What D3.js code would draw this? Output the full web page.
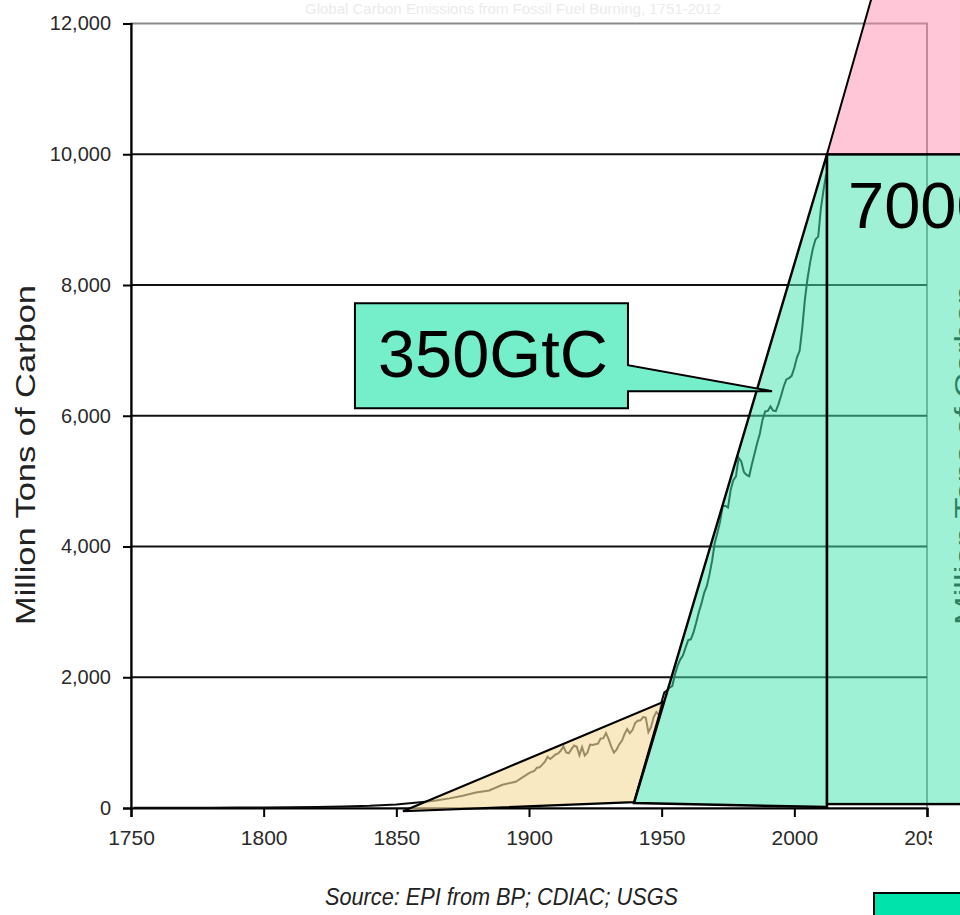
<!DOCTYPE html>
<html>
<head>
<meta charset="utf-8">
<script src="https://cdn.jsdelivr.net/npm/d3@7"></script>
<style>
  html, body { margin: 0; padding: 0; background: #fff; }
  svg { display: block; }
  text { font-family: "Liberation Sans", Arial, sans-serif; }
</style>
</head>
<body>
<svg id="chart" width="960" height="915"></svg>
<script>
// ---------- data ----------
const years = [1751,1760,1770,1780,1790,1800,1810,1820,1830,1840,
  1850,1855,1860,1865,1870,1875,1880,1885,1890,1895,
  1900,1901,1902,1903,1904,1905,1906,1907,1908,1909,
  1910,1911,1912,1913,1914,1915,1916,1917,1918,1919,
  1920,1921,1922,1923,1924,1925,1926,1927,1928,1929,
  1930,1931,1932,1933,1934,1935,1936,1937,1938,1939,
  1940,1941,1942,1943,1944,1945,1946,1947,1948,1949,
  1950,1951,1952,1953,1954,1955,1956,1957,1958,1959,
  1960,1961,1962,1963,1964,1965,1966,1967,1968,1969,
  1970,1971,1972,1973,1974,1975,1976,1977,1978,1979,
  1980,1981,1982,1983,1984,1985,1986,1987,1988,1989,
  1990,1991,1992,1993,1994,1995,1996,1997,1998,1999,
  2000,2001,2002,2003,2004,2005,2006,2007,2008,2009,
  2010,2011,2012];
const emissions = [3,3,4,5,7,8,10,14,24,33,
  54,71,91,115,147,188,236,269,356,400,
  534,552,566,617,624,663,707,784,750,785,
  819,836,879,943,850,838,901,955,936,806,
  932,803,845,970,963,975,983,1062,1065,1145,
  1053,940,847,893,973,1027,1130,1209,1142,1192,
  1299,1334,1342,1391,1383,1160,1238,1392,1469,1419,
  1630,1767,1795,1841,1865,2042,2177,2270,2330,2454,
  2569,2580,2686,2833,2995,3130,3288,3393,3566,3780,
  4053,4208,4376,4614,4623,4596,4864,5016,5074,5357,
  5301,5138,5094,5075,5258,5417,5583,5725,5936,6066,
  6074,6142,6078,6070,6174,6305,6448,6556,6576,6610,
  6733,6893,6994,7347,7789,8107,8353,8560,8700,8740,
  9170,9450,9700];

const xTicks = [1750,1800,1850,1900,1950,2000,2050];
const yTicks = [0,2000,4000,6000,8000,10000,12000];

// annotation shapes in data units (year, million tons)
const beigeYears = [1852.5, 1950.5, 1939.6];
const beigeValues = [-50, 1620, 90];
const greenTriYears = [1939.6, 2012.3, 2012.3];
const greenTriValues = [76, 10000, 15];
const greenRectYears = [2012.3, 2080];
const greenRectValues = [60, 10000];
const pinkYears = [2012.3, 2031, 2080, 2080];
const pinkValues = [10000, 12660, 12660, 10000];
const calloutYears = [1834.4, 1937.3, 1991.6];   // box left, box right, pointer tip
const calloutValues = [6116, 7722, 6774, 6376];  // box bottom, box top, pointer top, pointer tip

const titleText = "Global Carbon Emissions from Fossil Fuel Burning, 1751-2012";
const yTitle = "Million Tons of Carbon";
const sourceText = "Source: EPI from BP; CDIAC; USGS";
const calloutText = "350GtC";
const bigText = "7000GtC";

// ---------- scales ----------
const svg = d3.select("#chart");
const x = d3.scaleLinear().domain([1750, 2050]).range([131, 927]);
const y = d3.scaleLinear().domain([0, 12000]).range([808, 23.5]);
const pts = (xs, vs) => xs.map((d, i) => [x(d), y(vs[i])].join(",")).join(" ");

// faint title
svg.append("text").attr("x", 513).attr("y", 14).attr("text-anchor", "middle")
  .attr("font-size", 15).attr("fill", "#ebebeb").text(titleText);

// plot frame (top/right gray)
svg.append("rect").attr("x", x(1750)).attr("y", y(12000))
  .attr("width", x(2050) - x(1750)).attr("height", y(0) - y(12000))
  .attr("fill", "none").attr("stroke", "#8a8a8a").attr("stroke-width", 2);

// gridlines
svg.append("g").selectAll("line").data(yTicks.filter(d => d > 0 && d < 12000)).join("line")
  .attr("x1", x(1750)).attr("x2", x(2050)).attr("y1", d => y(d)).attr("y2", d => y(d))
  .attr("stroke", "#111").attr("stroke-width", 2.2);

// axes
const yAxis = d3.axisLeft(y).tickValues(yTicks).tickFormat(d3.format(",")).tickSize(8).tickPadding(12);
const gy = svg.append("g").attr("transform", `translate(${x(1750)},0)`).call(yAxis);
gy.select(".domain").attr("stroke", "#000").attr("stroke-width", 2.2);
gy.selectAll(".tick line").attr("stroke", "#000").attr("stroke-width", 2);
gy.selectAll(".tick text").attr("font-size", 20).attr("fill", "#2a2a2a")
  .attr("font-family", "'Liberation Sans', Arial, sans-serif");

const xAxis = d3.axisBottom(x).tickValues(xTicks).tickFormat(d3.format("d")).tickSize(9).tickPadding(13);
const gx = svg.append("g").attr("transform", `translate(0,${y(0)})`).call(xAxis);
gx.select(".domain").attr("stroke", "#000").attr("stroke-width", 2.2);
gx.selectAll(".tick line").attr("stroke", "#000").attr("stroke-width", 2);
gx.selectAll(".tick text").attr("font-size", 21).attr("fill", "#2a2a2a")
  .attr("font-family", "'Liberation Sans', Arial, sans-serif");

// y title (left) and ghost title at right edge
svg.append("text").attr("transform", "translate(35,455) rotate(-90)")
  .attr("text-anchor", "middle").attr("font-size", 27).attr("fill", "#222")
  .attr("textLength", 340).attr("lengthAdjust", "spacingAndGlyphs").text(yTitle);
svg.append("text").attr("transform", "translate(974,455) rotate(-90)")
  .attr("text-anchor", "middle").attr("font-size", 27).attr("fill", "#111")
  .attr("textLength", 340).attr("lengthAdjust", "spacingAndGlyphs").text(yTitle);

// data line
const line = d3.line().x((d, i) => x(years[i])).y(d => y(d));
svg.append("path").datum(emissions).attr("d", line)
  .attr("fill", "none").attr("stroke", "#0a0a0a").attr("stroke-width", 2);

// overlays
svg.append("polygon").attr("points", pts(beigeYears, beigeValues))
  .attr("fill", "rgba(245,220,158,0.62)").attr("stroke", "#000").attr("stroke-width", 2.2)
  .attr("stroke-linejoin", "miter");
svg.append("polygon").attr("points", pts(greenTriYears, greenTriValues))
  .attr("fill", "rgba(70,228,176,0.52)").attr("stroke", "#000").attr("stroke-width", 2.4);
svg.append("rect").attr("x", x(greenRectYears[0])).attr("y", y(greenRectValues[1]))
  .attr("width", x(greenRectYears[1]) - x(greenRectYears[0]))
  .attr("height", y(greenRectValues[0]) - y(greenRectValues[1]))
  .attr("fill", "rgba(70,228,176,0.52)").attr("stroke", "#000").attr("stroke-width", 2.4);
svg.append("polygon").attr("points", pts(pinkYears, pinkValues))
  .attr("fill", "rgba(255,135,172,0.48)").attr("stroke", "#000").attr("stroke-width", 2);

// white patch that hides the right part of the last x label (as in the reference)
svg.append("rect").attr("x", 932).attr("y", 818).attr("width", 30).attr("height", 72).attr("fill", "#fff");

// callout
const bl = x(calloutYears[0]), br = x(calloutYears[1]), tipX = x(calloutYears[2]);
const bb = y(calloutValues[0]), bt = y(calloutValues[1]), pTop = y(calloutValues[2]), pTip = y(calloutValues[3]);
svg.append("path")
  .attr("d", `M${bl},${bt} L${br},${bt} L${br},${pTop} L${tipX},${pTip} L${br},${pTip} L${br},${bb} L${bl},${bb} Z`)
  .attr("fill", "#74efc9").attr("stroke", "#000").attr("stroke-width", 2);
svg.append("text").attr("x", 378).attr("y", 377).attr("font-size", 66).attr("fill", "#000")
  .attr("textLength", 230).attr("lengthAdjust", "spacingAndGlyphs").text(calloutText);

// big label
svg.append("text").attr("x", 848).attr("y", 228).attr("font-size", 65).attr("fill", "#000").text(bigText);

// source
svg.append("text").attr("x", 325).attr("y", 905).attr("font-size", 24).attr("font-style", "italic")
  .attr("fill", "#222").attr("textLength", 353).attr("lengthAdjust", "spacingAndGlyphs").text(sourceText);

// bottom-right box
svg.append("rect").attr("x", 874).attr("y", 893).attr("width", 120).attr("height", 40)
  .attr("fill", "#00e3aa").attr("stroke", "#000").attr("stroke-width", 2);
</script>
</body>
</html>
